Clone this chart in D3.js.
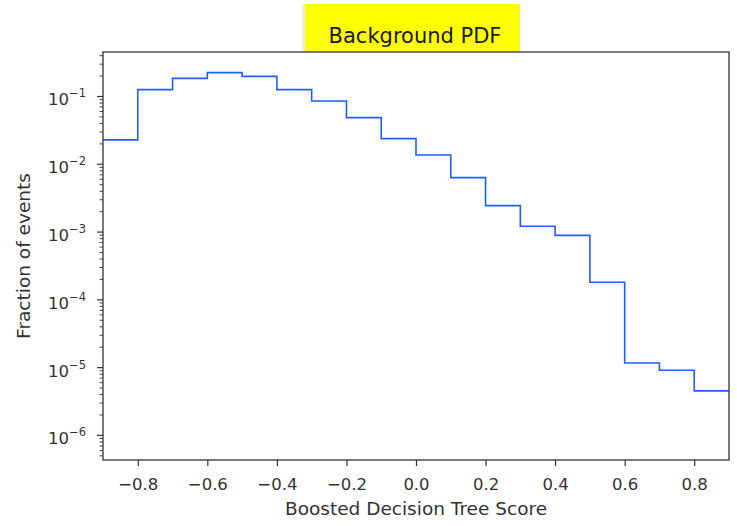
<!DOCTYPE html>
<html>
<head>
<meta charset="utf-8">
<script src="https://cdn.jsdelivr.net/npm/d3@7"></script>
<style>
  body { margin: 0; background: #fff; }
  text { font-family: "DejaVu Sans", sans-serif; fill: #262626; }
</style>
</head>
<body>
<div id="chart"></div>
<script>
// bin edges and fraction of events per bin
var binEdges = [-0.9, -0.8, -0.7, -0.6, -0.5, -0.4, -0.3, -0.2, -0.1, 0.0,
                0.1, 0.2, 0.3, 0.4, 0.5, 0.6, 0.7, 0.8, 0.9];
var fractions = [0.0225, 0.124, 0.182, 0.221, 0.195, 0.124, 0.0845, 0.0479, 0.0235,
                 0.0135, 0.00624, 0.00241, 0.0012, 0.00088, 0.000179, 1.15e-5, 9.0e-6, 4.46e-6];
var xTicks = [-0.8, -0.6, -0.4, -0.2, 0.0, 0.2, 0.4, 0.6, 0.8];
var yExponents = [-1, -2, -3, -4, -5, -6];

var width = 737, height = 526;
var margin = {top: 52, right: 8, bottom: 66, left: 103};

var svg = d3.select('#chart').append('svg')
    .attr('width', width)
    .attr('height', height);

var x = d3.scaleLinear()
    .domain([-0.9, 0.9])
    .range([margin.left, width - margin.right]);

var y = d3.scaleLog()
    .domain([Math.pow(10, -6.37), Math.pow(10, -0.351)])
    .range([height - margin.bottom, margin.top]);

// title box
var titleG = svg.append('g');
titleG.append('rect')
    .attr('x', 302).attr('y', 4).attr('width', 218).attr('height', 48)
    .attr('fill', '#ececec');
titleG.append('rect')
    .attr('x', 305).attr('y', 4).attr('width', 215).attr('height', 48)
    .attr('fill', '#ffff00');
titleG.append('text')
    .attr('x', 415).attr('y', 43)
    .attr('text-anchor', 'middle')
    .style('font-size', '21px')
    .style('fill', '#1a1a1a')
    .text('Background PDF');

// histogram step line
var pts = [];
for (var i = 0; i < fractions.length; i++) {
    pts.push([binEdges[i], fractions[i]]);
    pts.push([binEdges[i + 1], fractions[i]]);
}
var line = d3.line()
    .x(function(d) { return x(d[0]); })
    .y(function(d) { return y(d[1]); });

svg.append('path')
    .datum(pts)
    .attr('d', line)
    .attr('fill', 'none')
    .attr('stroke', '#1f5fff')
    .attr('stroke-width', 1.6);

// x axis
var xAxis = d3.axisBottom(x)
    .tickValues(xTicks)
    .tickSize(6)
    .tickFormat(function(d) { return d3.format('.1f')(d).replace('-', '\u2212'); });
var gx = svg.append('g')
    .attr('transform', 'translate(0,' + (height - margin.bottom) + ')')
    .call(xAxis);
gx.select('.domain').remove();
gx.selectAll('line').attr('stroke', '#333').attr('stroke-width', 1.2);
gx.selectAll('text').style('font-size', '16.5px').attr('dy', '1.3em').style('fill', '#333');

// y axis: major + minor ticks
var minor = [];
for (var e = -7; e <= 0; e++) {
    for (var m = 2; m <= 9; m++) {
        var v = m * Math.pow(10, e);
        if (v >= y.domain()[0] && v <= y.domain()[1]) minor.push(v);
    }
}
var gyMinor = svg.append('g')
    .attr('transform', 'translate(' + margin.left + ',0)')
    .call(d3.axisLeft(y).tickValues(minor).tickSize(3.5).tickFormat(''));
gyMinor.select('.domain').remove();
gyMinor.selectAll('line').attr('stroke', '#333').attr('stroke-width', 0.9);

var majors = yExponents.map(function(p) { return Math.pow(10, p); });
var gy = svg.append('g')
    .attr('transform', 'translate(' + margin.left + ',0)')
    .call(d3.axisLeft(y).tickValues(majors).tickSize(6).tickFormat(''));
gy.select('.domain').remove();
gy.selectAll('line').attr('stroke', '#333').attr('stroke-width', 1.2);

gy.selectAll('.tick').each(function(d) {
    var t = d3.select(this).append('text')
        .attr('x', -17).attr('y', 9)
        .attr('text-anchor', 'end')
        .style('font-size', '16.5px')
        .style('fill', '#333');
    var p = Math.round(Math.log10(d));
    t.append('tspan').text('10');
    t.append('tspan')
        .attr('dy', -8)
        .style('font-size', '11.5px')
        .text('\u2212' + Math.abs(p));
});

// frame
svg.append('rect')
    .attr('x', margin.left).attr('y', margin.top)
    .attr('width', width - margin.right - margin.left)
    .attr('height', height - margin.bottom - margin.top)
    .attr('fill', 'none')
    .attr('stroke', '#333')
    .attr('stroke-width', 1.3);

// axis labels
svg.append('text')
    .attr('x', 416)
    .attr('y', 515)
    .attr('text-anchor', 'middle')
    .style('font-size', '18.5px')
    .style('fill', '#333')
    .text('Boosted Decision Tree Score');

svg.append('text')
    .attr('transform', 'translate(30,' + ((margin.top + height - margin.bottom) / 2) + ') rotate(-90)')
    .attr('text-anchor', 'middle')
    .style('font-size', '18.5px')
    .style('fill', '#333')
    .text('Fraction of events');
</script>
</body>
</html>
